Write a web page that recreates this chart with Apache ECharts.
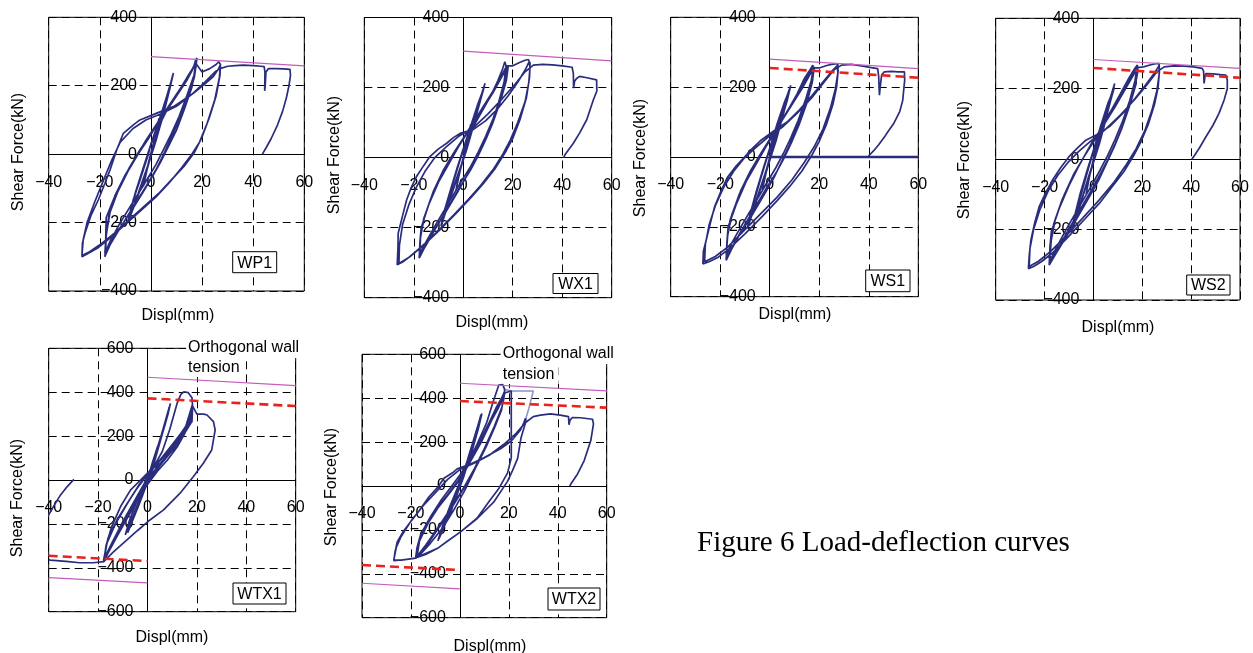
<!DOCTYPE html>
<html>
<head>
<meta charset="utf-8">
<script src="https://cdn.jsdelivr.net/npm/echarts@6/dist/echarts.min.js"></script>
<style>
  html, body { margin: 0; padding: 0; background: #fff; }
  #chart { width: 1253px; height: 653px; }
</style>
</head>
<body>
<div id="chart"></div>
<script>
// 荷重-変位履歴 (x: mm, y: kN)
const wp1Curve = [
  [0,0],[1.5,50],[3,100],[2,55],[0.5,10],[-1.5,-45],[-3,-95],[-1.8,-50],[-0.3,-5],[1.6,50],[3.2,105],[2,60],[0,0],
  [2,55],[4,110],[6,165],[8,215],[8.8,237],[7.8,205],[5.5,140],[3,70],[0.5,5],[-2,-50],[-5,-115],[-7.5,-165],[-9,-200],[-8.2,-170],[-6,-110],[-3,-40],[0,30],[3,90],[6,160],[8.5,230],[7.5,195],[5,120],[2,40],[-1,-30],[-4,-100],[-7,-160],[-8.8,-195],[-7.5,-150],[-5,-90],[-2,-20],[0,30],[3,95],[6,165],[8.3,222],[7,180],[4.5,105],[1.5,30],[-1.5,-40],[-4.5,-110],[-8.5,-188],[-7,-135],[-4,-70],[-1,0],[0,30],
  [3,80],[6,125],[10,170],[14,215],[16.5,250],[17.5,275],[18,281],[17.6,255],[16,195],[13,130],[10,70],[7,25],[4,-20],[1,-60],[-3,-110],[-8,-170],[-13,-225],[-16.5,-270],[-18,-300],[-17.7,-250],[-17.5,-185],[-14,-120],[-10,-60],[-6,-10],[-2,40],[2,85],[6,130],[10,175],[14,220],[17,260],[17.8,268],[17,225],[14.5,165],[11,100],[8,50],[5,0],[2,-45],[-2,-95],[-7,-155],[-12,-215],[-16,-265],[-17.8,-295],[-17.5,-240],[-16.5,-180],[-13,-110],[-9,-50],[-5,0],[-1,45],[3,95],[7,140],[11,185],[15,235],[17.5,262],
  [16.8,230],[14,170],[11,110],[8,60],[5,15],[2,-30],[-2,-80],[-7,-140],[-12,-200],[-16,-255],[-18,-290],[-17.6,-240],[-16,-170],[-12.5,-100],[-8.5,-40],[-4.5,10],[-0.5,55],[3.5,100],[7.5,145],[11.5,190],[15,235],[17.6,265],
  [20,240],[23,250],[25.5,262],[26.5,270],[27.2,262],[26.8,225],[25,160],[22,90],[19,35],[16,0],[12,-40],[7,-85],[2,-125],[-4,-165],[-10,-205],[-16,-245],[-21,-275],[-25,-292],[-27,-300],
  [-26.8,-260],[-25.8,-231],[-23.5,-180],[-20.6,-134],[-18,-85],[-16,-46],[-13.4,12],[-10.8,61],[-7,85],[-4.3,100],[2.3,120],[8.8,139],[16.6,178],[21,205],[24.4,227],[26.5,250],[27.2,262],
  [27,230],[25.5,170],[23,110],[20,50],[17,5],[13,-35],[8,-75],[3,-115],[-3,-155],[-9,-195],[-15,-235],[-20,-265],[-24,-285],[-27,-296],
  [-26.5,-250],[-25,-200],[-22,-140],[-18.5,-75],[-15.5,-20],[-12,35],[-7,75],[-2,100],[4,118],[10,140],[16,175],[21,210],[25,240],[27,250],[30,257],[33,259],[36,260],[40,259],[43,257],[44.3,256],[44.6,240],[44.5,185],[44.7,200],[45,240],[46,250],[49,250],[52,249],[54.4,248],[54.6,230],[54,200],[53,165],[51.5,125],[49.5,85],[47,45],[45,18],[43.6,0]
];
const wx1Curve = [
  [0,0],[1.5,45],[3,95],[2,55],[0.3,8],[-1.5,-45],[-3,-95],[-1.8,-50],[0,0],
  [2,50],[4.5,110],[6.5,160],[8.8,212],[7.6,180],[5,115],[2.5,50],[0,-5],[-3,-65],[-6,-130],[-9,-195],[-8,-160],[-5.5,-100],[-2.5,-30],[0,25],[3,85],[6,150],[8.5,205],[7,165],[4,90],[1,15],[-2,-45],[-5.5,-120],[-8.7,-190],[-7,-140],[-4,-70],[-1,0],[0,25],[3,90],[6,155],[8.4,200],[7.2,170],[4.5,100],[1.5,25],[-1.5,-40],[-5,-110],[-8.5,-182],[-6.5,-125],[-3.5,-55],[-0.5,10],
  [3,75],[7,125],[11,175],[14,220],[16,255],[16.8,274],[17.3,262],[16.5,215],[14,150],[11,90],[8,40],[5,-5],[2,-45],[-2,-95],[-7,-155],[-12,-210],[-15.5,-255],[-17.8,-287],[-17.5,-240],[-17,-200],[-14,-135],[-10,-70],[-6,-20],[-2,30],[2,75],[6,120],[10,165],[14,215],[17,255],[18.2,262],[17.4,220],[15,160],[12,100],[9,50],[6,5],[3,-35],[-1,-80],[-6,-140],[-11,-200],[-15,-250],[-17.6,-280],[-17.3,-230],[-16,-175],[-12.5,-105],[-8.5,-45],[-4.5,5],[-0.5,50],[4,100],[8,140],[12,185],[15.5,230],[17.6,255],
  [17,225],[15,170],[12,110],[9,60],[6,15],[3,-25],[-1,-70],[-6,-130],[-11,-190],[-15,-240],[-17.7,-275],[-17.3,-225],[-15.5,-165],[-12,-95],[-8,-35],[-4,12],[0,55],[4.5,105],[8.5,150],[12.5,195],[16,240],[17.8,262],
  [20,262],[23,272],[25,278],[26.3,280],[27,270],[26.8,230],[25.5,170],[23,110],[20,55],[17,15],[13,-30],[8,-75],[3,-115],[-3,-160],[-10,-210],[-16,-250],[-21,-280],[-24.5,-298],[-26.7,-306],
  [-26.4,-260],[-26.3,-216],[-24.5,-165],[-22.9,-121],[-21,-85],[-18.9,-54],[-16,-23],[-13.5,3],[-10,25],[-6.7,41],[-4,57],[-1.3,69],[4,80],[9,105],[14,140],[18,175],[22,215],[25,250],[26.5,272],
  [27,260],[26.5,215],[25,160],[22,100],[19,50],[16,10],[12,-35],[7,-80],[2,-120],[-4,-165],[-11,-215],[-17,-255],[-22,-285],[-26,-302],
  [-25.8,-250],[-24.5,-190],[-22,-135],[-19,-85],[-15.5,-40],[-11.5,0],[-7,30],[-2,60],[4,85],[10,125],[16,170],[21,210],[25,245],[28.3,264],[32,266],[36,265],[40,262],[44,258],[44.5,240],[44.6,198],[45,218],[45.8,226],[47,232],[50,228],[53.9,222],[54.6,217],[54,190],[52.6,165],[49.9,108],[47,70],[44.5,41],[41.1,8],[40.6,0]
];
const ws1Curve = [
  [0,0],[1.5,45],[3,95],[2,55],[0.3,8],[-1.5,-45],[-3,-95],[-1.8,-50],[0,0],
  [2,55],[4.5,115],[6.5,165],[8.5,205],[7.5,175],[5,110],[2.5,45],[0,-10],[-3,-75],[-6,-140],[-9,-205],[-8,-165],[-5.5,-100],[-2.5,-30],[0,25],[3,90],[6,150],[8.3,200],[7,160],[4,90],[1,15],[-2,-50],[-5.5,-125],[-8.8,-200],[-7,-145],[-4,-70],[-1,0],[0,25],[3,95],[6,158],[8.2,196],[7.2,168],[4.5,100],[1.5,25],[-1.5,-45],[-5,-118],[-8.6,-192],[-6.5,-130],[-3.5,-55],[-0.5,10],
  [3,80],[7,130],[11,180],[14,225],[16.3,250],[17.4,263],[17.6,250],[16.5,205],[14,145],[11,85],[8,35],[5,-10],[2,-55],[-2,-105],[-7,-165],[-12,-220],[-15.5,-265],[-17.6,-296],[-17.3,-245],[-16.8,-200],[-13.5,-135],[-9.5,-70],[-5.5,-20],[-1.5,30],[2.5,75],[6.5,125],[10.5,170],[14,215],[17,250],[18,258],[17.2,215],[15,155],[12,95],[9,45],[6,0],[3,-40],[-1,-85],[-6,-145],[-11,-205],[-15,-255],[-17.5,-288],[-17.2,-235],[-16,-180],[-12.5,-110],[-8.5,-50],[-4.5,0],[-0.5,45],[4,95],[8,140],[12,185],[15.5,230],[17.5,250],
  [16.8,220],[14.5,165],[11.5,105],[8.5,55],[5.5,10],[2.5,-30],[-1.5,-78],[-6.5,-138],[-11.5,-198],[-15.5,-248],[-17.6,-282],[-17,-225],[-15.3,-165],[-11.8,-98],[-7.8,-40],[-3.8,8],[0.5,55],[5,105],[9,150],[13,195],[16.3,237],[17.8,255],
  [20,255],[23,262],[25.5,266],[27.5,267],[27.6,245],[27,200],[25.5,150],[23,95],[20,45],[17,5],[13,-40],[8,-85],[3,-125],[-3,-170],[-10,-220],[-16,-260],[-21,-288],[-24.5,-300],[-27,-306],
  [-26.8,-270],[-25.7,-239],[-24,-190],[-22.3,-143],[-19.5,-95],[-17,-57],[-13.5,-25],[-10.2,0],[-7,25],[-3.5,48],[1.9,76],[7,100],[12,135],[17,175],[21,210],[25,245],[27.3,262],
  [27.5,240],[26.5,195],[24.5,140],[21.5,80],[18,30],[14,-15],[9,-65],[3,-115],[-4,-165],[-11,-215],[-17,-258],[-22,-285],[-26.3,-300],
  [-26,-250],[-24.5,-195],[-22,-140],[-18.5,-85],[-14.5,-40],[-10.5,-5],[-6,25],[-1,55],[5,85],[11,125],[17,170],[22,215],[26,250],[29,263],[33,265],[37,261],[41,256],[43.6,253],[44,230],[44.3,177],[44.6,200],[45.2,235],[46.3,244],[49,245],[52,244],[54.4,244],[54.5,220],[53.7,162],[52.5,130],[50,95],[47.5,70],[46.3,57],[44,35],[42,18],[40.2,5],[39.8,0]
];
const ws1ZeroTrace = [[0,0],[60,0]];
const ws2Curve = [
  [0,0],[1.5,45],[3,95],[2,55],[0.3,8],[-1.5,-45],[-3,-100],[-1.8,-55],[0,0],
  [2,55],[4.5,115],[6.5,165],[8.7,215],[7.5,180],[5,110],[2.5,45],[0,-10],[-3,-75],[-6,-145],[-9,-210],[-8,-170],[-5.5,-100],[-2.5,-30],[0,25],[3,90],[6,155],[8.5,205],[7,165],[4,90],[1,15],[-2,-50],[-5.5,-130],[-8.8,-205],[-7,-150],[-4,-75],[-1,0],[0,25],[3,95],[6,160],[8.4,200],[7.2,170],[4.5,100],[1.5,25],[-1.5,-45],[-5,-120],[-8.6,-198],[-6.5,-135],[-3.5,-58],[-0.5,10],
  [3,80],[7,135],[11,185],[14.5,230],[17,258],[18,267],[18.2,250],[17,205],[14.5,145],[11.5,85],[8.5,35],[5.5,-10],[2.5,-55],[-1.5,-105],[-6.5,-165],[-11.5,-225],[-15.5,-270],[-18.1,-301],[-17.8,-250],[-17.2,-205],[-14,-140],[-10,-75],[-6,-20],[-2,30],[2.5,80],[6.5,130],[10.5,175],[14.5,225],[17.5,258],[18.3,262],[17.5,215],[15,155],[12,95],[9,45],[6,0],[3,-40],[-1,-90],[-6,-150],[-11,-210],[-15,-260],[-17.8,-295],[-17.5,-240],[-16.3,-185],[-12.8,-115],[-8.8,-55],[-4.8,-5],[-0.8,45],[4,95],[8,145],[12,190],[15.5,235],[17.8,258],
  [17,222],[14.8,165],[11.8,105],[8.8,55],[5.8,10],[2.8,-30],[-1.2,-80],[-6.2,-140],[-11.2,-200],[-15.2,-252],[-17.9,-290],[-17.3,-232],[-15.6,-170],[-12,-102],[-8,-42],[-4,5],[0.3,52],[4.8,103],[9,150],[13,198],[16.5,240],[18,260],
  [20.5,262],[23.5,268],[25.5,271],[26.9,272],[27,250],[26.5,205],[25,155],[22.5,100],[19.5,50],[16.5,10],[12.5,-35],[7.5,-80],[2.5,-125],[-3.5,-170],[-10.5,-222],[-16.5,-265],[-21.5,-292],[-24.5,-305],[-26.6,-311],
  [-26.3,-275],[-25.6,-230],[-24,-180],[-22.2,-135],[-19.5,-95],[-16.8,-60],[-13.5,-25],[-10,7],[-6.5,32],[-3.1,54],[2.3,73],[7,95],[12,130],[17,172],[21.5,212],[25,245],[26.8,265],
  [27,245],[26,195],[24,140],[21,80],[17.5,30],[13.5,-15],[8.5,-65],[2.5,-115],[-4.5,-168],[-11.5,-220],[-17.5,-262],[-22.5,-290],[-26.3,-305],
  [-26,-255],[-24.5,-200],[-22,-145],[-18.5,-90],[-14.5,-45],[-10.5,-10],[-6,22],[-1,52],[5,85],[11,125],[17,170],[22,212],[26,248],[29,262],[33,265],[37,264],[41,262],[44.5,258],[45.1,250],[45.3,215],[45.6,232],[46,243],[49,242],[52,240],[54.2,239],[54.8,225],[54.8,200],[53.5,168],[51.4,130],[49,97],[46,63],[43.5,33],[41.5,12],[40.5,2],[40.3,0]
];
const wtx1Curve = [
  [0,0],[2,80],[4,150],[2.5,90],[0.5,15],[-2,-60],[-4,-130],[-2.2,-65],[0,0],
  [3,100],[6,210],[8,300],[9.3,349],[8.3,300],[5.5,190],[2.5,70],[0,-10],[-3,-90],[-6,-170],[-9,-250],[-7.3,-185],[-4.3,-95],[-1.3,-15],[2,70],[5,180],[8.5,320],[9,335],[7.2,255],[4,135],[1,25],[-3,-100],[-8,-240],[-6,-170],[-3,-80],[0,0],[3,110],[6,220],[8.8,330],[7.5,270],[4.5,150],[1.5,35],[-2.5,-85],[-7.5,-225],[-5.5,-155],[-2.5,-65],[0.5,10],
  [3,70],[6,130],[9,230],[12,350],[13.5,390],[14.7,402],[16.5,398],[18,375],[18.3,330],[17.5,280],[15,210],[12,150],[8,90],[4,40],[0,-20],[-5,-110],[-10,-210],[-15,-310],[-17.7,-372],[-16.8,-300],[-14.5,-212],[-10.9,-121],[-6.9,-46],[-2.8,0],[1.2,45],[5.3,76],[10,140],[14,210],[17,275],[18.1,330],[17.6,275],[14.5,205],[10.5,140],[6,80],[2,22],[-3,-60],[-8,-160],[-13,-270],[-17.5,-365],[-16.5,-290],[-13,-200],[-9,-120],[-5,-50],[-1,10],[3,62],[8,125],[12,185],[15.5,245],[18,300],[17.7,262],[14,195],[10,135],[5,65],[1,5],[-4,-90],[-9,-190],[-14,-290],[-17.8,-368],[-16.3,-280],[-12.5,-190],[-7.5,-95],[-3.5,-25],[1,40],[6,105],[11,175],[15,235],[18,265],[18.2,318],[17.8,290],
  [15,225],[11,160],[7,100],[3,45],[-1,-10],[-5,-90],[-10,-190],[-15,-300],[-17.6,-360],[-16,-265],[-12,-175],[-7,-85],[-3,-15],[1.5,45],[6.5,110],[11.5,180],[15.5,245],[18.1,340],
  [20,300],[22.8,300],[24.1,296],[26.7,266],[27.4,228],[26,137],[22.6,76],[18.6,16],[13.2,-60],[6.5,-136],[1,-182],[-4,-230],[-9,-280],[-14,-330],[-17.7,-372],[-22,-377],[-27.5,-377],[-33,-371],[-39.3,-365],[-40,-364]
];
const wtx1Tail = [[-40,-159],[-37.5,-110],[-35.2,-68],[-32.5,-30],[-29.8,3]];
const wtx2Curve = [
  [0,0],[2,70],[4,140],[2.5,80],[0.5,15],[-2,-60],[-4,-130],[-2.2,-65],[0,0],
  [3,110],[6,220],[9,330],[7.5,260],[5,160],[2,60],[0,0],[-3,-90],[-6,-170],[-9,-250],[-7,-180],[-4,-90],[-1,-10],[2,80],[5,180],[8.5,320],[7,250],[4,140],[1,30],[-3,-90],[-8.5,-240],[-6,-160],[-3,-70],[0,10],[3,115],[6,225],[8.7,325],[7.3,262],[4.5,150],[1.5,40],[-2.5,-80],[-8,-228],[-5.5,-150],[-2.5,-60],[0.5,15],
  [3,100],[7,190],[11,290],[13.5,380],[15.9,460],[17.5,462],[18.3,440],[18,400],[17,350],[14,270],[11,195],[8,120],[5,50],[2,-20],[-2,-100],[-7,-190],[-12,-260],[-16,-310],[-18.1,-330],[-17.5,-280],[-16,-220],[-12,-140],[-8,-70],[-4,-10],[0,50],[4,120],[8,200],[12,290],[15,360],[17.5,410],[18,425],[17.2,360],[14,270],[10,170],[6,80],[2,0],[-3,-90],[-9,-190],[-14,-270],[-17.8,-325],[-17,-260],[-14,-180],[-10,-110],[-5,-40],[-1,20],[3,90],[8,190],[12,280],[15.5,350],[17.8,405],
  [17,345],[14.5,275],[11,185],[7,95],[3,15],[-2,-75],[-8,-180],[-13,-262],[-17.5,-320],[-16.5,-250],[-13,-170],[-9,-100],[-4,-30],[0,30],[4,105],[9,205],[13,300],[16,370],[18,412],
  [18.5,425],[21,433],[21,300],[21,128],[19.5,60],[16,-10],[12,-70],[7,-147],[0.4,-208],[-5,-250],[-9.1,-284],[-14,-312],[-18.7,-330],[-23,-336],[-27,-340],
  [-26.5,-300],[-25.6,-255],[-23,-205],[-20.2,-164],[-16.5,-110],[-12.7,-50],[-9,-5],[-6.5,35],[-3,60],[-1.1,78],[4.4,100],[10,130],[16.6,170],[21,205],[24.7,254],[26.2,290],[26.8,308],[27,295],[26.6,287],[25,220],[23.6,126],[21.5,70],[19.4,20],[14,-71],[7.2,-147],[0.4,-208],[-9.1,-284],[-18.7,-330],[-24,-338],[-27,-337],
  [-26,-280],[-24,-230],[-20,-160],[-15,-90],[-10,-30],[-5,30],[0,75],[6,105],[12,140],[18,190],[23,240],[26.6,287],[30,316],[32.9,323],[37,329],[41,323],[44.4,316],[44.6,279],[45,300],[46,312],[49.3,311],[54.2,304],[54.6,283],[53.5,207],[50.8,116],[48.1,55],[45.4,10],[44.9,0]
];
const wtx2Gray = [[18.3,440],[21,433],[25,433],[30,433],[28.2,354],[26.2,278]];

// 耐力線 (紫: 計算値, 赤破線: 設計値)
const wp1Limit = [[0,285],[60,258]];
const wx1Limit = [[0,304],[60,276]];
const ws1Limit = [[0,280],[60,253]];
const ws1Design = [[0,255],[60,227]];
const ws2Limit = [[0,283],[60,258]];
const ws2Design = [[0,259],[60,231]];
const wtx1Limit = [[0,468],[60,430]];
const wtx1LimitNeg = [[-40,-445],[0,-469]];
const wtx1Design = [[0,372],[60,337]];
const wtx1DesignNeg = [[-40,-345],[0,-369]];
const wtx2Limit = [[0,468],[60,433]];
const wtx2LimitNeg = [[-40,-443],[0,-469]];
const wtx2Design = [[0,387],[60,357]];
const wtx2DesignNeg = [[-40,-360],[0,-383]];

// 軸範囲
const xRange = [-40, 60];
const yRangeUpper = [-400, 400];
const yRangeLower = [-600, 600];

const NAVY = '#2a2c7c';
const MAGENTA = '#c45cbc';
const RED = '#e8231e';
const FONT = '"Liberation Sans", Arial, sans-serif';

const panels = [
  { tag: 'WP1', curves: [wp1Curve], limits: [wp1Limit], designs: [], yRange: yRangeUpper,
    grid: { left: 48.7, top: 17.3, width: 255.6, height: 273.7 }, yTitle: [19, 152], xTitle: [178, 316], box: [232.7, 251.7, 44, 21] },
  { tag: 'WX1', curves: [wx1Curve], limits: [wx1Limit], designs: [], yRange: yRangeUpper,
    grid: { left: 364.3, top: 17.5, width: 247.4, height: 280.2 }, yTitle: [335, 155], xTitle: [492, 323], box: [553, 273.5, 45, 20] },
  { tag: 'WS1', curves: [ws1Curve], thick: ws1ZeroTrace, limits: [ws1Limit], designs: [ws1Design], yRange: yRangeUpper,
    grid: { left: 670.7, top: 17.3, width: 247.6, height: 279.4 }, yTitle: [641, 158], xTitle: [795, 315], box: [865.7, 270, 44.3, 21.7] },
  { tag: 'WS2', curves: [ws2Curve], limits: [ws2Limit], designs: [ws2Design], yRange: yRangeUpper,
    grid: { left: 995.7, top: 18.3, width: 244.3, height: 281.7 }, yTitle: [965, 160], xTitle: [1118, 328], box: [1186.7, 275, 43.3, 20] },
  { tag: 'WTX1', curves: [wtx1Curve, wtx1Tail], limits: [wtx1Limit, wtx1LimitNeg], designs: [wtx1Design, wtx1DesignNeg], yRange: yRangeLower,
    grid: { left: 48.7, top: 348.3, width: 247, height: 263.4 }, yTitle: [18, 498], xTitle: [172, 638], box: [233, 583, 53, 21],
    note: [188, 348, 368] },
  { tag: 'WTX2', curves: [wtx2Curve], limits: [wtx2Limit, wtx2LimitNeg], designs: [wtx2Design, wtx2DesignNeg], yRange: yRangeLower,
    grid: { left: 362, top: 354.3, width: 244.7, height: 263.4 }, yTitle: [332, 487], xTitle: [490, 647], box: [548, 588, 52, 22],
    note: [502.7, 354, 375], gray: wtx2Gray }
];

// マイナス記号は全角幅で表示
const tickFmt = v => String(v).replace('-', '\u2212');

const grids = [], xAxes = [], yAxes = [], series = [], graphics = [];

panels.forEach((p, i) => {
  grids.push(Object.assign({ show: true, borderColor: '#000', borderWidth: 1, backgroundColor: 'transparent', containLabel: false }, p.grid));
  const splitLine = { show: true, lineStyle: { color: '#000', width: 1, type: [8, 5] } };
  // 軸は原点を通す (offset で移動)
  const yZeroFrac = (0 - p.yRange[0]) / (p.yRange[1] - p.yRange[0]);
  const xZeroFrac = (0 - xRange[0]) / (xRange[1] - xRange[0]);
  xAxes.push({
    gridIndex: i, type: 'value', min: xRange[0], max: xRange[1], interval: 20,
    position: 'bottom', offset: -p.grid.height * yZeroFrac,
    axisLine: { onZero: false, lineStyle: { color: '#000', width: 1 } },
    axisTick: { show: false },
    axisLabel: { margin: 20, color: '#000', fontSize: 16, fontFamily: FONT, showMinLabel: true, showMaxLabel: true, formatter: tickFmt },
    splitLine
  });
  yAxes.push({
    gridIndex: i, type: 'value', min: p.yRange[0], max: p.yRange[1], interval: 200,
    position: 'left', offset: -p.grid.width * xZeroFrac,
    axisLine: { onZero: false, lineStyle: { color: '#000', width: 1 } },
    axisTick: { show: false },
    axisLabel: { margin: 14, color: '#000', fontSize: 16, fontFamily: FONT, showMinLabel: true, showMaxLabel: true, formatter: tickFmt },
    splitLine
  });
  p.curves.forEach(c => series.push({
    type: 'line', xAxisIndex: i, yAxisIndex: i, data: c, showSymbol: false, symbol: 'none',
    lineStyle: { color: NAVY, width: 1.7 }, z: 4, silent: true
  }));
  if (p.thick) series.push({
    type: 'line', xAxisIndex: i, yAxisIndex: i, data: p.thick, symbol: 'none',
    lineStyle: { color: NAVY, width: 2.4 }, z: 4, silent: true
  });
  if (p.gray) series.push({
    type: 'line', xAxisIndex: i, yAxisIndex: i, data: p.gray, symbol: 'none',
    lineStyle: { color: '#8d90c4', width: 1.5 }, z: 3, silent: true
  });
  p.limits.forEach(c => series.push({
    type: 'line', xAxisIndex: i, yAxisIndex: i, data: c, symbol: 'none',
    lineStyle: { color: MAGENTA, width: 1.2 }, z: 5, silent: true
  }));
  p.designs.forEach(c => series.push({
    type: 'line', xAxisIndex: i, yAxisIndex: i, data: c, symbol: 'none',
    lineStyle: { color: RED, width: 2.6, type: [9, 5] }, z: 5, silent: true
  }));

  // 軸タイトル
  graphics.push({
    type: 'text', x: p.yTitle[0], y: p.yTitle[1], rotation: Math.PI / 2, z: 10,
    style: { text: 'Shear Force(kN)', fontSize: 16, fontFamily: FONT, fill: '#000', textAlign: 'center', textVerticalAlign: 'middle' }
  });
  graphics.push({
    type: 'text', x: p.xTitle[0], y: p.xTitle[1], z: 10,
    style: { text: 'Displ(mm)', fontSize: 16, fontFamily: FONT, fill: '#000', textAlign: 'center', textVerticalAlign: 'middle' }
  });
  // 試験体名
  graphics.push({
    type: 'rect', z: 10,
    shape: { x: p.box[0], y: p.box[1], width: p.box[2], height: p.box[3] },
    style: { fill: '#fff', stroke: '#000', lineWidth: 1 }
  });
  graphics.push({
    type: 'text', x: p.box[0] + p.box[2] / 2, y: p.box[1] + p.box[3] / 2 + 1, z: 11,
    style: { text: p.tag, fontSize: 16, fontFamily: FONT, fill: '#000', textAlign: 'center', textVerticalAlign: 'middle' }
  });
  // 直交壁引張の注記
  if (p.note) {
    const [nx, y1, y2] = p.note;
    graphics.push({ type: 'rect', z: 1, shape: { x: nx - 2, y: y1 - 11, width: 116, height: 21 }, style: { fill: '#fff' } });
    graphics.push({ type: 'rect', z: 1, shape: { x: nx - 2, y: y2 - 10, width: 58, height: 19 }, style: { fill: '#fff' } });
    graphics.push({
      type: 'text', x: nx, y: y1, z: 10,
      style: { text: 'Orthogonal wall', fontSize: 16, fontFamily: FONT, fill: '#000', textAlign: 'left', textVerticalAlign: 'middle' }
    });
    graphics.push({
      type: 'text', x: nx, y: y2, z: 10,
      style: { text: 'tension', fontSize: 16, fontFamily: FONT, fill: '#000', textAlign: 'left', textVerticalAlign: 'middle' }
    });
  }
});

graphics.push({
  type: 'text', x: 697, y: 543, z: 10,
  style: { text: 'Figure 6 Load-deflection curves', fontSize: 29, fontFamily: '"Liberation Serif", "Times New Roman", serif', fill: '#000', textAlign: 'left', textVerticalAlign: 'middle' }
});

const myChart = echarts.init(document.getElementById('chart'), null, { renderer: 'canvas' });
myChart.setOption({
  animation: false,
  backgroundColor: '#fff',
  grid: grids,
  xAxis: xAxes,
  yAxis: yAxes,
  series: series,
  graphic: graphics
});
</script>
</body>
</html>
